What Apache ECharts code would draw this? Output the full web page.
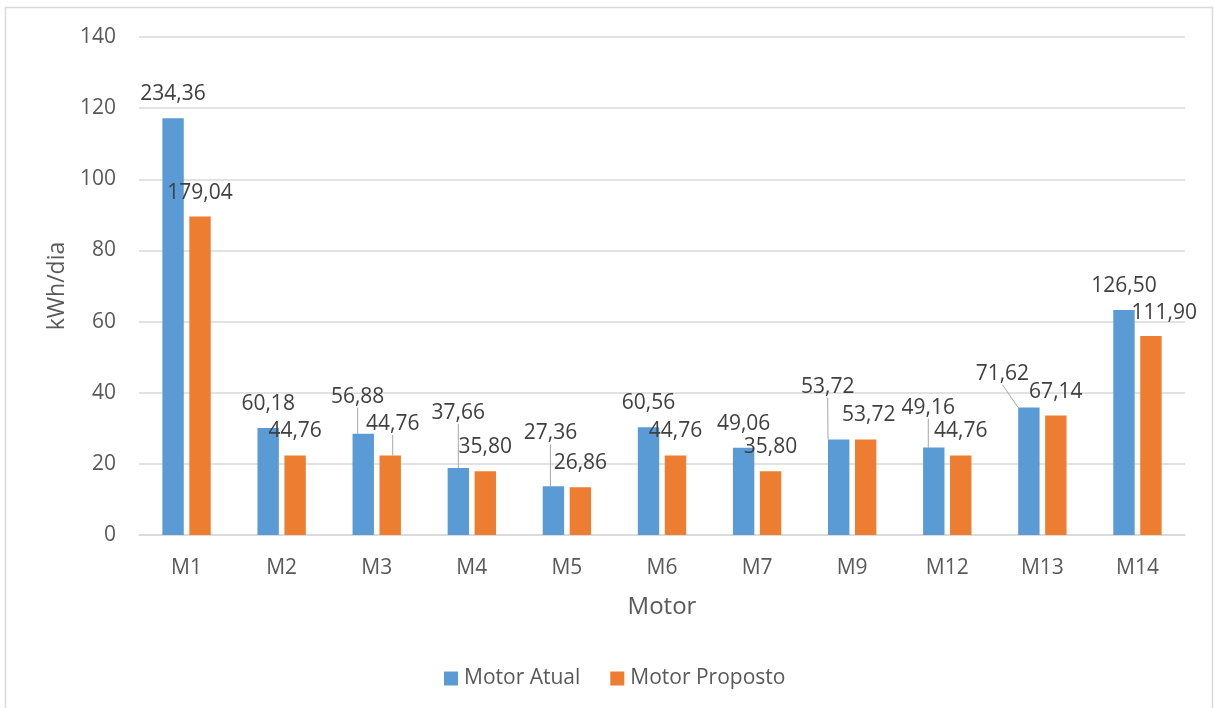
<!DOCTYPE html>
<html lang="pt">
<head>
<meta charset="utf-8">
<title>Consumo diário por motor</title>
<script src="https://cdn.jsdelivr.net/npm/echarts@6/dist/echarts.min.js"></script>
<style>
  html, body { margin: 0; padding: 0; background: #ffffff; }
  #chart { width: 1214px; height: 708px; }
</style>
</head>
<body>
<div id="chart"></div>
<script>
// Motores avaliados
const categories = ['M1', 'M2', 'M3', 'M4', 'M5', 'M6', 'M7', 'M9', 'M12', 'M13', 'M14'];

// Valores rotulados em cada barra
const motorAtual    = [234.36, 60.18, 56.88, 37.66, 27.36, 60.56, 49.06, 53.72, 49.16, 71.62, 126.50];
const motorProposto = [179.04, 44.76, 44.76, 35.80, 26.86, 44.76, 35.80, 53.72, 44.76, 67.14, 111.90];

// Escala do eixo kWh/dia
const yTicks = [0, 20, 40, 60, 80, 100, 120, 140];

// As barras ficam na escala kWh/dia: metade do valor rotulado
const AXIS_FACTOR = 0.5;

// Deslocamentos manuais (px) de alguns rótulos, com linha de chamada
const labelNudge = [
  { M3: [-5.6, -13.3], M4: [0, -31], M5: [-3, -29], M9: [-11, -28.7], M12: [-5.5, -16], M13: [-26.5, -10] },
  { M3: [2.5, -7.4], M9: [3, 0], M14: [13.3, 1] }
];

const FONT = '"Open Sans", "Noto Sans", sans-serif';
const AXIS_TEXT = '#595959';
const LABEL_TEXT = '#404040';
const GRID_LINE = '#d9d9d9';

function barData(values, seriesIdx) {
  return values.map((v, i) => {
    const nudge = labelNudge[seriesIdx][categories[i]];
    const withLine = !!nudge && Math.abs(nudge[1]) > 5;
    return {
      value: v * AXIS_FACTOR,
      labelLine: { show: withLine }
    };
  });
}

function labelFormatter(values) {
  return p => values[p.dataIndex].toFixed(2).replace('.', ',');
}

function nudgeLayout(seriesIdx) {
  return params => {
    const nudge = labelNudge[seriesIdx][categories[params.dataIndex]];
    if (!nudge) return {};
    return { dx: nudge[0], dy: nudge[1] };
  };
}

const labelCommon = {
  show: true,
  position: 'top',
  distance: 13,
  fontFamily: FONT,
  fontSize: 21,
  lineHeight: 22,
  color: LABEL_TEXT
};

const labelLineCommon = {
  lineStyle: { color: '#a6a6a6', width: 1 }
};

const chart = echarts.init(document.getElementById('chart'), null, { renderer: 'canvas' });

chart.setOption({
  animation: false,
  textStyle: { fontFamily: FONT },
  graphic: [{
    type: 'rect',
    shape: { x: 5.5, y: 7.5, width: 1207, height: 740 },
    style: { fill: 'none', stroke: '#d9d9d9', lineWidth: 1.5 },
    silent: true
  }],
  grid: { left: 139, right: 29, top: 37, bottom: 173, containLabel: false },
  legend: {
    data: ['Motor Atual', 'Motor Proposto'],
    left: 444,
    top: 668,
    padding: 0,
    itemWidth: 14,
    itemHeight: 14,
    itemGap: 30,
    icon: 'rect',
    textStyle: { fontFamily: FONT, fontSize: 21, color: AXIS_TEXT, padding: [0, 0, 0, 1] }
  },
  xAxis: {
    type: 'category',
    data: categories,
    name: 'Motor',
    nameLocation: 'middle',
    nameGap: 60,
    nameTextStyle: { fontFamily: FONT, fontSize: 24, color: AXIS_TEXT },
    axisLine: { lineStyle: { color: GRID_LINE, width: 1.5 } },
    axisTick: { show: false },
    axisLabel: { fontFamily: FONT, fontSize: 21, color: AXIS_TEXT, margin: 23 }
  },
  yAxis: {
    type: 'value',
    min: yTicks[0],
    max: yTicks[yTicks.length - 1],
    interval: yTicks[1] - yTicks[0],
    name: 'kWh/dia',
    nameLocation: 'middle',
    nameGap: 68,
    nameTextStyle: { fontFamily: FONT, fontSize: 23, color: AXIS_TEXT },
    axisLine: { show: false },
    axisTick: { show: false },
    axisLabel: { fontFamily: FONT, fontSize: 21, color: AXIS_TEXT, margin: 23 },
    splitLine: { lineStyle: { color: GRID_LINE, width: 1.5 } }
  },
  series: [
    {
      name: 'Motor Atual',
      type: 'bar',
      barWidth: '22.5%',
      barGap: '26%',
      itemStyle: { color: '#5b9bd5' },
      data: barData(motorAtual, 0),
      label: Object.assign({}, labelCommon, { formatter: labelFormatter(motorAtual) }),
      labelLine: labelLineCommon,
      labelLayout: nudgeLayout(0)
    },
    {
      name: 'Motor Proposto',
      type: 'bar',
      barWidth: '22.5%',
      barGap: '26%',
      itemStyle: { color: '#ed7d31' },
      data: barData(motorProposto, 1),
      label: Object.assign({}, labelCommon, { formatter: labelFormatter(motorProposto) }),
      labelLine: labelLineCommon,
      labelLayout: nudgeLayout(1)
    }
  ]
});
</script>
</body>
</html>
